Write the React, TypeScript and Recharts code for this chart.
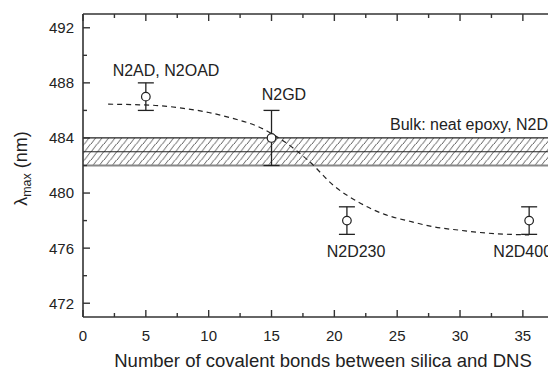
import {
  ComposedChart,
  XAxis,
  YAxis,
  Line,
  Scatter,
  ErrorBar,
  ReferenceArea,
  ReferenceLine,
} from 'recharts';

// measured points with error bars
const pointX = [5, 15, 21, 35.5];
const pointY = [487, 484, 478, 478];
const pointErr = [1, 2, 1, 1];

// dashed guide curve
const curveX = [2, 4, 6, 8, 10, 12, 14, 16, 18, 20, 22, 24, 26, 28, 30, 32, 34, 35.5];
const curveY = [
  486.45, 486.42, 486.35, 486.15, 485.85, 485.4, 484.8, 483.75, 482.3, 480.5,
  479.3, 478.45, 477.95, 477.53, 477.3, 477.1, 477.0, 476.96,
];

// bulk band
const bandLow = 482;
const bandMid = 483;
const bandHigh = 484;

const xTicks = [0, 2.5, 5, 7.5, 10, 12.5, 15, 17.5, 20, 22.5, 25, 27.5, 30, 32.5, 35];
const yTicks = [472, 474, 476, 478, 480, 482, 484, 486, 488, 490, 492];

const labelText = ['N2AD, N2OAD', 'N2GD', 'Bulk: neat epoxy, N2D', 'N2D230', 'N2D400'];
const labelX = [2.36, 14.22, 24.43, 19.39, 32.65];
const labelY = [488.5, 486.75, 484.6, 475.37, 475.37];

const xDomain = [0, 37];
const yDomain = [471, 493];

const points = pointX.map((x, i) => ({ x, y: pointY[i], err: pointErr[i] }));
const curve = curveX.map((x, i) => ({ x, y: curveY[i] }));
const notes = labelText.map((text, i) => ({ x: labelX[i], y: labelY[i], text }));

const FONT = '"Liberation Sans", Arial, Helvetica, sans-serif';
const INK = '#222';
const AXIS = '#333';

// chart box: 548 x 369, plot area from the margins / axis sizes below
const W = 548;
const H = 369;
const TOP = 14;
const LEFT = 83;
const XAXIS_H = 52;
const plotW = W - LEFT;
const plotH = H - TOP - XAXIS_H;
const sx = (v: number) => LEFT + ((v - xDomain[0]) / (xDomain[1] - xDomain[0])) * plotW;
const sy = (v: number) => TOP + ((yDomain[1] - v) / (yDomain[1] - yDomain[0])) * plotH;

const isMajorX = (v: number) => v % 5 === 0;
const isMajorY = (v: number) => (v - 472) % 4 === 0;

const bottomLabel = (p: any) => {
  const v = p.payload.value;
  if (!isMajorX(v)) return <g key={`b${v}`} />;
  return (
    <text key={`b${v}`} x={p.x} y={Number(p.y) + 23.5} textAnchor="middle" fontSize={15} fill={INK} fontFamily={FONT}>
      {v}
    </text>
  );
};

const leftLabel = (p: any) => {
  const v = p.payload.value;
  if (!isMajorY(v)) return <g key={`l${v}`} />;
  return (
    <text key={`l${v}`} x={Number(p.x) - 9} y={Number(p.y) + 5.4} textAnchor="end" fontSize={15} fill={INK} fontFamily={FONT}>
      {v}
    </text>
  );
};

const Hatch = (p: any) => (
  <g>
    <defs>
      <pattern id="hatch" patternUnits="userSpaceOnUse" width={6.5} height={8}>
        <path d="M-1.5,10 L7.25,-1.67 M5,10 L13.75,-1.67 M-8,10 L0.75,-1.67" stroke="#333" strokeWidth={0.8} />
      </pattern>
    </defs>
    <rect x={p.x} y={p.y} width={p.width} height={p.height} fill="url(#hatch)" />
  </g>
);

const Circle = (p: any) => (
  <circle cx={p.cx} cy={p.cy} r={4.3} fill="#fff" stroke={INK} strokeWidth={1.2} />
);

const Note = (p: any) => (
  <text x={p.cx} y={p.cy} textAnchor="start" fontSize={16} fill={INK} fontFamily={FONT}>
    {p.payload.text}
  </text>
);

// frame pieces Recharts would not draw here: top border and inward ticks
function Frame() {
  const x0 = sx(xDomain[0]);
  const yTop = sy(yDomain[1]);
  const yBot = sy(yDomain[0]);
  return (
    <g stroke={AXIS} strokeWidth={1.4} fill="none">
      <path d={`M${x0},${yTop}H${W}`} strokeWidth={1.5} />
      {xTicks.map((v) => {
        const len = isMajorX(v) ? 7 : 4;
        const x = sx(v);
        return (
          <g key={`x${v}`}>
            <path d={`M${x},${yBot}V${yBot - len}`} />
            <path d={`M${x},${yTop}V${yTop + len}`} />
          </g>
        );
      })}
      {yTicks.map((v) => {
        const len = isMajorY(v) ? 7 : 4;
        const y = sy(v);
        return <path key={`y${v}`} d={`M${x0},${y}H${x0 + len}`} />;
      })}
    </g>
  );
}

export default function App() {
  return (
    <div style={{ position: 'absolute', left: 0, top: 0, width: W, height: H, background: '#fff' }}>
      <ComposedChart width={W} height={H} margin={{ top: TOP, right: 0, bottom: 0, left: 0 }}>
        <XAxis
          dataKey="x"
          type="number"
          domain={xDomain}
          ticks={xTicks}
          interval={0}
          height={XAXIS_H}
          tickSize={0}
          tickMargin={0}
          tickLine={false}
          tick={bottomLabel}
          axisLine={{ stroke: AXIS, strokeWidth: 1.6 }}
        />
        <YAxis
          type="number"
          domain={yDomain}
          ticks={yTicks}
          interval={0}
          width={LEFT}
          tickSize={0}
          tickMargin={0}
          tickLine={false}
          tick={leftLabel}
          axisLine={{ stroke: AXIS, strokeWidth: 1.6 }}
        />
        <ReferenceArea y1={bandLow} y2={bandHigh} shape={<Hatch />} />
        <ReferenceLine y={bandHigh} stroke={INK} strokeWidth={1.2} />
        <ReferenceLine y={bandMid} stroke={INK} strokeWidth={1.2} />
        <ReferenceLine y={bandLow} stroke="#888" strokeWidth={1.8} />
        <Line
          data={curve}
          dataKey="y"
          type="monotone"
          stroke={INK}
          strokeWidth={1.2}
          strokeDasharray="5 4"
          dot={false}
          isAnimationActive={false}
        />
        <Scatter data={points} dataKey="y" shape={<Circle />} isAnimationActive={false}>
          <ErrorBar dataKey="err" direction="y" width={8} stroke={INK} strokeWidth={1.3} />
        </Scatter>
        <Scatter data={notes} dataKey="y" shape={<Note />} isAnimationActive={false} />
      </ComposedChart>
      <svg
        width={W}
        height={H}
        style={{ position: 'absolute', left: 0, top: 0, pointerEvents: 'none' }}
      >
        <Frame />
        <text x={323} y={366.5} textAnchor="middle" fontSize={18.5} fill={INK} fontFamily={FONT}>
          Number of covalent bonds between silica and DNS
        </text>
        <text
          x={27}
          y={168.5}
          transform="rotate(-90, 27, 168.5)"
          textAnchor="middle"
          fontSize={18}
          fill={INK}
          fontFamily={FONT}
        >
          λ
          <tspan fontSize={12.5} dy={4}>
            max
          </tspan>
          <tspan dy={-4}> (nm)</tspan>
        </text>
      </svg>
    </div>
  );
}
